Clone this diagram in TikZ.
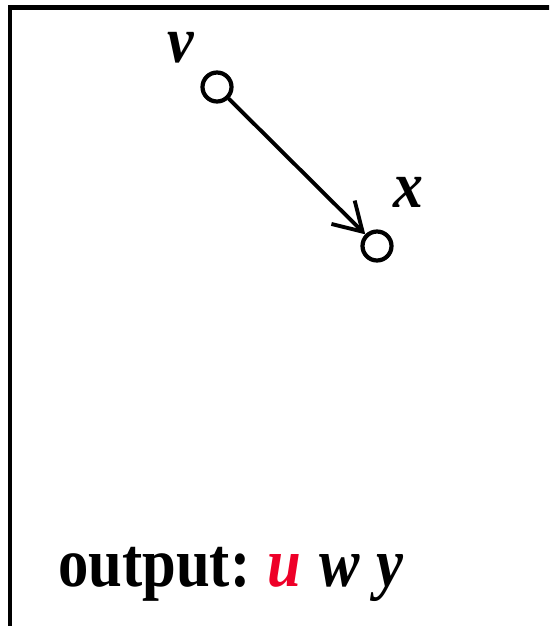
\documentclass[tikz,border=0pt]{standalone}
\usepackage{fontspec}
\setmainfont{Liberation Serif}
\usetikzlibrary{arrows.meta}
\definecolor{outred}{RGB}{238,0,40}

\begin{document}
\begin{tikzpicture}[x=0.02cm, y=-0.02cm, vertex/.style={circle,draw,line width=2.4pt,minimum size=0.58cm,inner sep=0pt}, lbl/.style={anchor=base,inner sep=0pt,font=\fontsize{34}{40}\selectfont\bfseries\itshape}]
      \useasboundingbox (0,0) rectangle (549,626);
      \clip (0,0) rectangle (549,626);
      \draw[line width=2.8pt] (10,700) -- (10,7.5) -- (620,7.5);
      \node[vertex] (v) at (217,87) {};
      \node[vertex] (x) at (377,246) {};
      \node[lbl] (vl) at (181,62) {\scalebox{1}[1.1]{v}};
      \node[lbl] (xl) at (408,207) {\scalebox{1}[1.1]{x}};
      \draw[line width=2.2pt, -{Straight Barb[length=0.55cm,width=0.66cm]}] (v) -- (x);
      \node[anchor=base west, inner sep=0pt, font=\fontsize{34.5}{40}\selectfont\bfseries] (out) at (58,586) {\scalebox{1}[1.15]{output:\hspace{-2pt} {\itshape\color{outred}u}\hspace{2pt} {\itshape w}\hspace{1pt} {\itshape y}}};
    \end{tikzpicture}
\end{document}
